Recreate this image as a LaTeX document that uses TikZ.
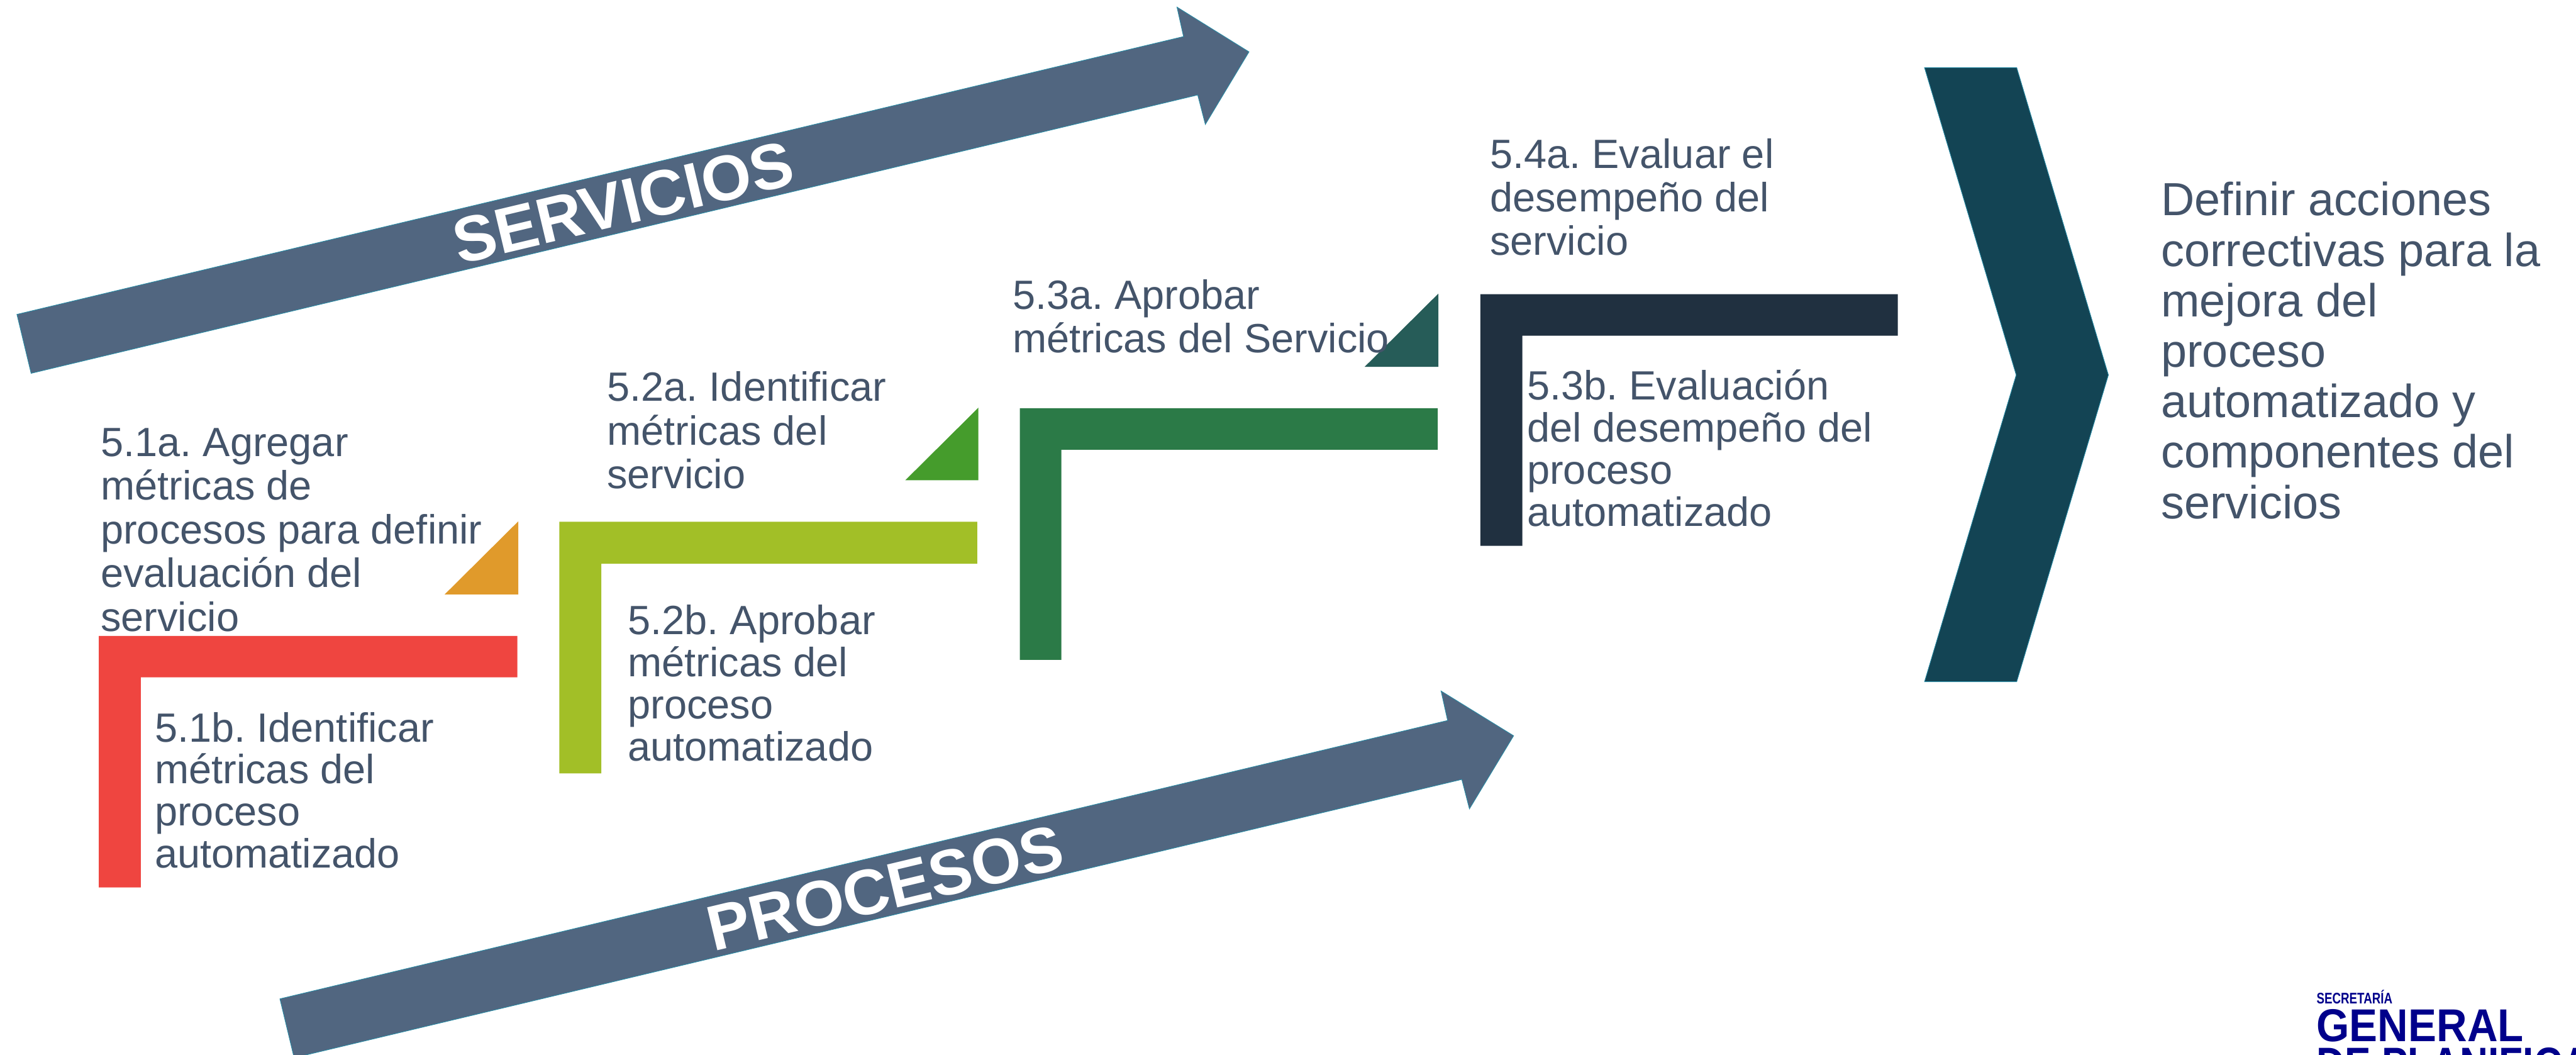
\documentclass[tikz,border=0pt]{standalone}
\usepackage{fontspec}
\setmainfont{Liberation Sans}
\frenchspacing

\definecolor{textoGris}{HTML}{44546A}
\definecolor{flechaAzul}{HTML}{516680}
\definecolor{bordeAzul}{HTML}{2A8CA6}
\definecolor{cierreAzul}{HTML}{134454}
\definecolor{rojoL}{HTML}{EF4540}
\definecolor{naranjaT}{HTML}{E09A2B}
\definecolor{limaL}{HTML}{A2BF27}
\definecolor{verdeT}{HTML}{459C2C}
\definecolor{verdeL}{HTML}{2B7A47}
\definecolor{petroleoT}{HTML}{265C58}
\definecolor{marinoL}{HTML}{203040}
\definecolor{logoAzul}{HTML}{00008B}

\tikzset{
    paso/.style={anchor=north west, inner sep=0pt, align=left, text=textoGris,
        font=\fontsize{21.3}{22.76}\selectfont},
    pasob/.style={paso, font=\fontsize{21.3}{21.95}\selectfont},
    flecha/.style={fill=flechaAzul, draw=bordeAzul, line width=0.3pt},
    rotulo/.style={text=white, rotate=13.4, inner sep=0pt,
        font=\fontsize{33.4}{36}\selectfont\bfseries},
    logo/.style={anchor=base west, inner sep=0pt, text=logoAzul, transform shape}
}

\begin{document}
\begin{tikzpicture}
    \useasboundingbox (0,0) rectangle (47.21,-19.32);

    % Flecha superior
    \filldraw[flecha] (0.31,-5.76) -- (21.69,-0.67) -- (21.57,-0.13) -- (22.89,-0.95)
        -- (22.09,-2.28) -- (21.95,-1.74) -- (0.57,-6.84) -- cycle;
    \node[rotulo] (servicios) at (11.42,-3.71) {SERVICIOS};

    % Flecha inferior
    \filldraw[flecha] (5.13,-18.30) -- (26.53,-13.20) -- (26.41,-12.66) -- (27.74,-13.48)
        -- (26.93,-14.82) -- (26.79,-14.28) -- (5.39,-19.38) -- cycle;
    \node[rotulo] (procesos) at (16.22,-16.27) {PROCESOS};

    % Paso 5.1
    \fill[naranjaT] (9.50,-9.55) -- (9.50,-10.89) -- (8.15,-10.89) -- cycle;
    \fill[rojoL] (1.81,-11.65) -- (9.48,-11.65) -- (9.48,-12.41) -- (2.58,-12.41)
        -- (2.58,-16.26) -- (1.81,-16.26) -- cycle;
    \node[paso] (p51a) at (1.84,-7.84) {5.1a. Agregar\\métricas de\\procesos para definir\\evaluación del\\servicio};
    \node[pasob] (p51b) at (2.83,-13.04) {5.1b. Identificar\\métricas del\\proceso\\automatizado};

    % Paso 5.2
    \fill[verdeT] (17.93,-7.47) -- (17.93,-8.80) -- (16.59,-8.80) -- cycle;
    \fill[limaL] (10.25,-9.56) -- (17.91,-9.56) -- (17.91,-10.33) -- (11.02,-10.33)
        -- (11.02,-14.17) -- (10.25,-14.17) -- cycle;
    \node[paso] (p52a) at (11.12,-6.80) {5.2a. Identificar\\métricas del\\servicio};
    \node[pasob] (p52b) at (11.50,-11.08) {5.2b. Aprobar\\métricas del\\proceso\\automatizado};

    % Paso 5.3
    \fill[petroleoT] (26.36,-5.38) -- (26.36,-6.72) -- (25.01,-6.72) -- cycle;
    \fill[verdeL] (18.69,-7.48) -- (26.35,-7.48) -- (26.35,-8.24) -- (19.45,-8.24)
        -- (19.45,-12.09) -- (18.69,-12.09) -- cycle;
    \node[paso] (p53a) at (18.55,-5.11) {5.3a. Aprobar\\métricas del Servicio};
    \node[pasob] (p53b) at (27.98,-6.77) {5.3b. Evaluación\\del desempeño del\\proceso\\automatizado};

    % Paso 5.4
    \fill[marinoL] (27.13,-5.39) -- (34.78,-5.39) -- (34.78,-6.15) -- (27.90,-6.15)
        -- (27.90,-10.00) -- (27.13,-10.00) -- cycle;
    \node[paso] (p54a) at (27.30,-2.53) {5.4a. Evaluar el\\desempeño del\\servicio};

    % Cierre
    \filldraw[fill=cierreAzul, draw=bordeAzul, line width=0.3pt] (35.27,-1.24) -- (36.96,-1.24)
        -- (38.64,-6.87) -- (36.96,-12.49) -- (35.27,-12.49) -- (36.95,-6.87) -- cycle;
    \node[paso, font=\fontsize{24.2}{26.3}\selectfont] (accion) at (39.60,-3.33)
        {Definir acciones\\correctivas para la\\mejora del\\proceso\\automatizado y\\componentes del\\servicios};

    % Logotipo, cortado por el borde
    \node[logo, xscale=0.77, font=\fontsize{8}{9}\selectfont\bfseries] (secretaria) at (42.45,-18.39) {SECRETARÍA};
    \node[logo, xscale=0.92, font=\fontsize{24}{26}\selectfont\bfseries] (general) at (42.45,-19.08) {GENERAL};
    \node[logo, xscale=0.85, font=\fontsize{24}{26}\selectfont\bfseries] (planifica) at (42.45,-19.78) {DE PLANIFICA};
\end{tikzpicture}
\end{document}
